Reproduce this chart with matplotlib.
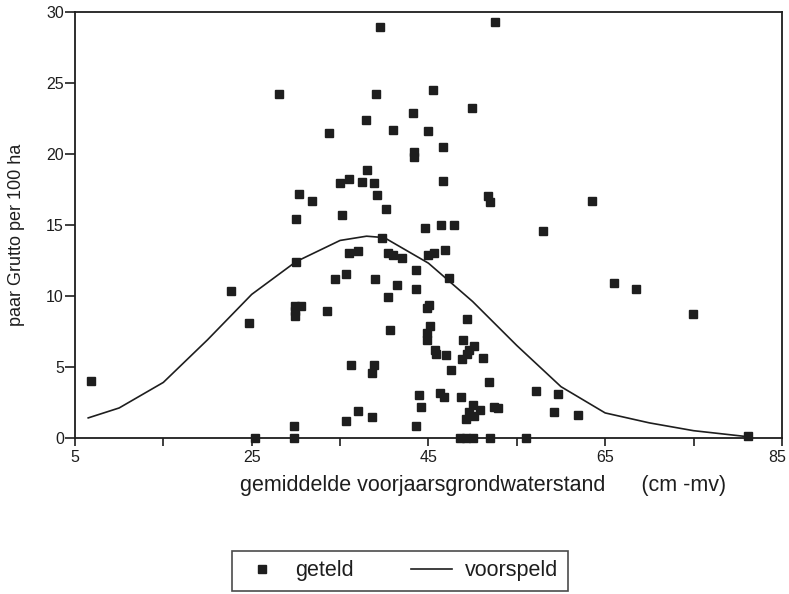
import numpy as np
import matplotlib.pyplot as plt
import matplotlib.transforms as mtransforms

plt.rcParams['font.family'] = ['Liberation Sans', 'DejaVu Sans']

# geteld (observed)
x_obs = [6.8, 22.7, 24.7, 25.4, 28.1, 30.0, 30.0, 29.9, 30.6, 29.9, 29.9, 29.8, 29.8,
         30.3, 31.8, 33.5, 33.7, 34.4, 35.0, 35.2, 35.7, 35.7, 36.0, 36.0, 36.2, 37.0,
         37.0, 37.5, 37.9, 38.1, 38.8, 38.8, 38.6, 38.6, 38.9, 39.1, 39.2, 39.5, 39.8,
         40.2, 40.4, 41.0, 42.0, 41.4, 40.4, 40.6, 41.0, 43.2, 43.4, 43.4, 43.6, 43.6,
         43.6, 43.9, 44.2, 44.6, 44.9, 45.5, 45.0, 45.6, 44.8, 45.1, 45.2, 44.8, 44.8,
         45.7, 45.9, 46.3, 46.8, 46.4, 46.6, 46.6, 46.9, 47.3, 47.0, 47.5, 47.9, 48.7,
         48.6, 49.3, 50.0, 48.9, 49.4, 49.9, 50.2, 49.6, 49.4, 48.8, 51.2, 51.9, 50.1,
         50.8, 49.6, 50.2, 49.2, 52.4, 52.9, 52.0, 51.7, 52.0, 52.5, 56.0, 57.2, 58.0,
         59.7, 59.2, 61.9, 63.5, 66.0, 68.5, 74.9, 81.2]
y_obs = [4.0, 10.35, 8.1, 0.0, 24.25, 15.4, 12.4, 9.3, 9.3, 8.9, 8.55, 0.85, 0.0,
         17.2, 16.7, 8.9, 21.5, 11.2, 17.96, 15.7, 11.55, 1.17, 18.2, 13.0, 5.14, 13.15,
         1.88, 18.0, 22.4, 18.85, 17.96, 5.14, 4.55, 1.48, 11.2, 24.2, 17.1, 28.97, 14.1,
         16.1, 13.0, 12.9, 12.65, 10.75, 9.93, 7.6, 21.7, 22.9, 20.1, 19.8, 11.8, 10.5,
         0.85, 2.98, 2.16, 14.8, 21.6, 24.5, 12.9, 13.0, 9.13, 9.37, 7.84, 7.37, 6.9,
         6.15, 5.9, 3.14, 2.9, 15.0, 20.5, 18.1, 13.2, 11.25, 5.85, 4.79, 15.0, 2.9,
         0.0, 0.0, 0.0, 6.9, 8.35, 23.2, 6.5, 6.2, 5.9, 5.54, 5.65, 3.9, 2.3,
         1.97, 1.85, 1.5, 1.3, 2.2, 2.09, 0.0, 17.0, 16.6, 29.3, 0.0, 3.3, 14.6,
         3.07, 1.85, 1.57, 16.7, 10.9, 10.5, 8.7, 0.1]

# voorspeld (model curve)
x_fit = [6.5, 10, 15, 20, 25, 30, 35, 38, 40, 45, 50, 55, 60, 65, 70, 75, 81.5]
y_fit = [1.4, 2.1, 3.9, 6.9, 10.1, 12.4, 13.9, 14.2, 14.1, 12.3, 9.6, 6.5, 3.6, 1.75, 1.05, 0.5, 0.05]

ink = '#1e1e1e'

fig = plt.figure(figsize=(7.89, 5.94), dpi=100)
ax = fig.add_axes([0.095, 0.263, 0.896, 0.717])

ax.plot(x_obs, y_obs, 's', color=ink, markersize=5.8, label='geteld', clip_on=False, zorder=3)
ax.plot(x_fit, y_fit, '-', color=ink, linewidth=1.2, label='voorspeld')

ax.set_xlim(5, 85)
ax.set_ylim(0, 30)
ax.set_xticks([5, 25, 45, 65, 85])
ax.set_xticks([15, 35, 55, 75], minor=True)
ax.set_yticks(range(0, 31, 5))

for s in ax.spines.values():
    s.set_color(ink)
    s.set_linewidth(1.3)

ax.tick_params(axis='x', which='both', direction='out', length=6, width=1.2, color=ink,
               labelsize=11.5, labelcolor=ink, pad=3)
ax.tick_params(axis='y', direction='out', length=7, width=1.2, color=ink,
               labelsize=11.5, labelcolor=ink, pad=1)

# keep the last x label inside the figure edge
last = ax.get_xticklabels()[-1]
last.set_transform(last.get_transform() + mtransforms.ScaledTranslation(-5 / 100, 0, fig.dpi_scale_trans))

ax.set_xlabel('gemiddelde voorjaarsgrondwaterstand      (cm -mv)', fontsize=15.5, color=ink)
ax.xaxis.set_label_coords(0.577, -0.088)
ax.set_ylabel('paar Grutto per 100 ha', fontsize=13, color=ink)
ax.yaxis.set_label_coords(-0.071, 0.477)

leg = fig.legend(loc='lower left', bbox_to_anchor=(0.294, 0.005, 0.426, 0.07),
                 mode='expand', ncol=2, fontsize=15.5, frameon=True, fancybox=False,
                 edgecolor=ink, handlelength=1.9, handletextpad=0.6, borderaxespad=0,
                 borderpad=0.45)
leg.get_frame().set_linewidth(1.2)
for t in leg.get_texts():
    t.set_color(ink)

plt.savefig('out.png', dpi=100)
